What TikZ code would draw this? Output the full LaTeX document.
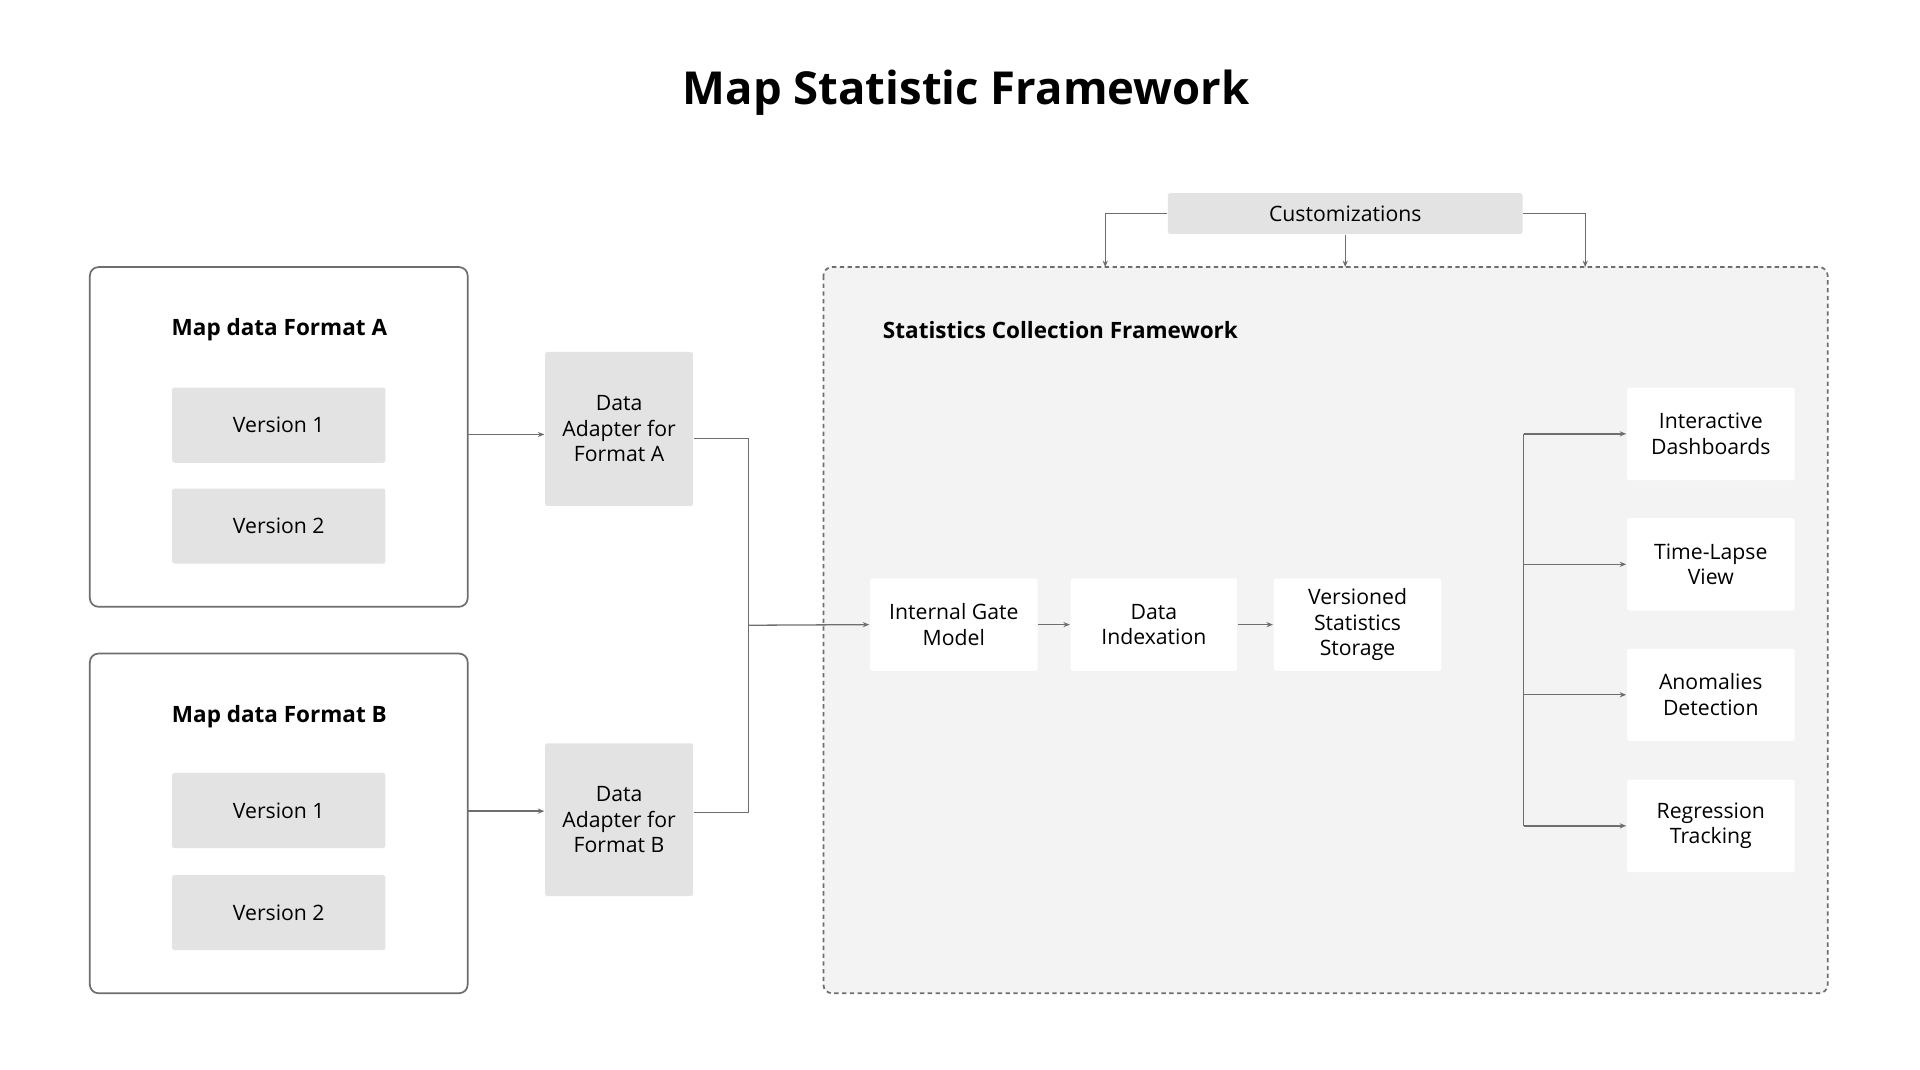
\documentclass[tikz,border=0pt]{standalone}
\usepackage{fontspec}
\setmainfont{Open Sans}
\usetikzlibrary{arrows.meta}
\definecolor{boxgray}{HTML}{E3E3E3}
\definecolor{framegray}{HTML}{F3F3F3}
\definecolor{linegray}{HTML}{6E6E6E}
\tikzset{
	txt/.style={font=\fontsize{4.9}{5.9}\selectfont,align=center,text=black},
	graybox/.style={txt,fill=boxgray,rounded corners=0.5pt,inner sep=0pt},
	whitebox/.style={txt,fill=white,rounded corners=0.5pt,inner sep=0pt},
	conn/.style={draw=linegray,line width=0.3pt,-{Stealth[length=1.5pt,width=1.2pt]}},
	plain/.style={draw=linegray,line width=0.3pt}
}
\begin{document}
\begin{tikzpicture}[x=0.01cm,y=-0.01cm]
	\useasboundingbox (0,0) rectangle (1560,869);
	\node[font=\fontsize{10.5}{12.5}\selectfont\bfseries] (title) at (785,75) {Map Statistic Framework};

	%format boxes
	\draw[linegray,line width=0.4pt,rounded corners=2pt,fill=white] (73,217) rectangle (380,493);
	\draw[linegray,line width=0.4pt,rounded corners=2pt,fill=white] (73,531) rectangle (380,807);
	\coordinate (fA) at (380,353);
	\coordinate (fB) at (380,659);
	\node[txt,font=\fontsize{5.2}{6.2}\selectfont\bfseries] (labA) at (227,268) {Map data Format A};
	\node[txt,font=\fontsize{5.2}{6.2}\selectfont\bfseries] (labB) at (227,582) {Map data Format B};
	\foreach \n/\y/\t in {a1/345.5/Version 1,a2/427.5/Version 2,b1/658.5/Version 1,b2/741.5/Version 2}
		\node[graybox,minimum width=1.73cm,minimum height=0.61cm] (v\n) at (226.5,\y) {\t};

	%adapters
	\node[graybox,minimum width=1.2cm,minimum height=1.25cm] (adA) at (503,348.5) {Data\\Adapter for\\Format A};
	\node[graybox,minimum width=1.2cm,minimum height=1.24cm] (adB) at (503,666) {Data\\Adapter for\\Format B};
	\draw[conn] (fA) -- (adA.west |- fA);
	\draw[conn] (fB) -- (adB.west |- fB);

	%framework
	\draw[linegray,line width=0.4pt,dash pattern=on 1pt off 0.8pt,fill=framegray,rounded corners=2pt] (669,217) rectangle (1485,807);
	\node[txt,font=\fontsize{5.2}{6.2}\selectfont\bfseries,anchor=west] (labF) at (705,268) {Statistics Collection Framework};
	\node[graybox,minimum width=2.88cm,minimum height=0.33cm] (cust) at (1093,173.5) {Customizations};
	\draw[conn] (cust.west) -| (898,217);
	\draw[conn] (cust.south) -- (1093,217);
	\draw[conn] (cust.east) -| (1288,217);

	\node[whitebox,minimum width=1.36cm,minimum height=0.75cm] (gate) at (775,507.5) {Internal Gate\\Model};
	\node[whitebox,minimum width=1.35cm,minimum height=0.75cm] (index) at (937.5,507.5) {Data\\Indexation};
	\node[whitebox,minimum width=1.36cm,minimum height=0.75cm] (store) at (1103,507.5) {Versioned\\Statistics\\Storage};
	\draw[plain] (adA.east |- 0,356) -| (608,508);
	\draw[plain] (adB.east |- 0,660) -| (608,508);
	\draw[conn] (608,508) -- (gate.west);
	\draw[conn] (gate) -- (index);
	\draw[conn] (index) -- (store);

	%outputs
	\foreach \n/\y/\t in {dash/352.5/Interactive\\Dashboards,lapse/458.5/Time-Lapse\\View,anom/564.5/Anomalies\\Detection,regr/671/Regression\\Tracking}
	{
		\node[whitebox,minimum width=1.36cm,minimum height=0.75cm] (\n) at (1390,\y) {\t};
		\draw[conn] (1238,\y) -- (\n.west);
	}
	\draw[plain] (1238,352.5) -- (1238,671);
\end{tikzpicture}
\end{document}
